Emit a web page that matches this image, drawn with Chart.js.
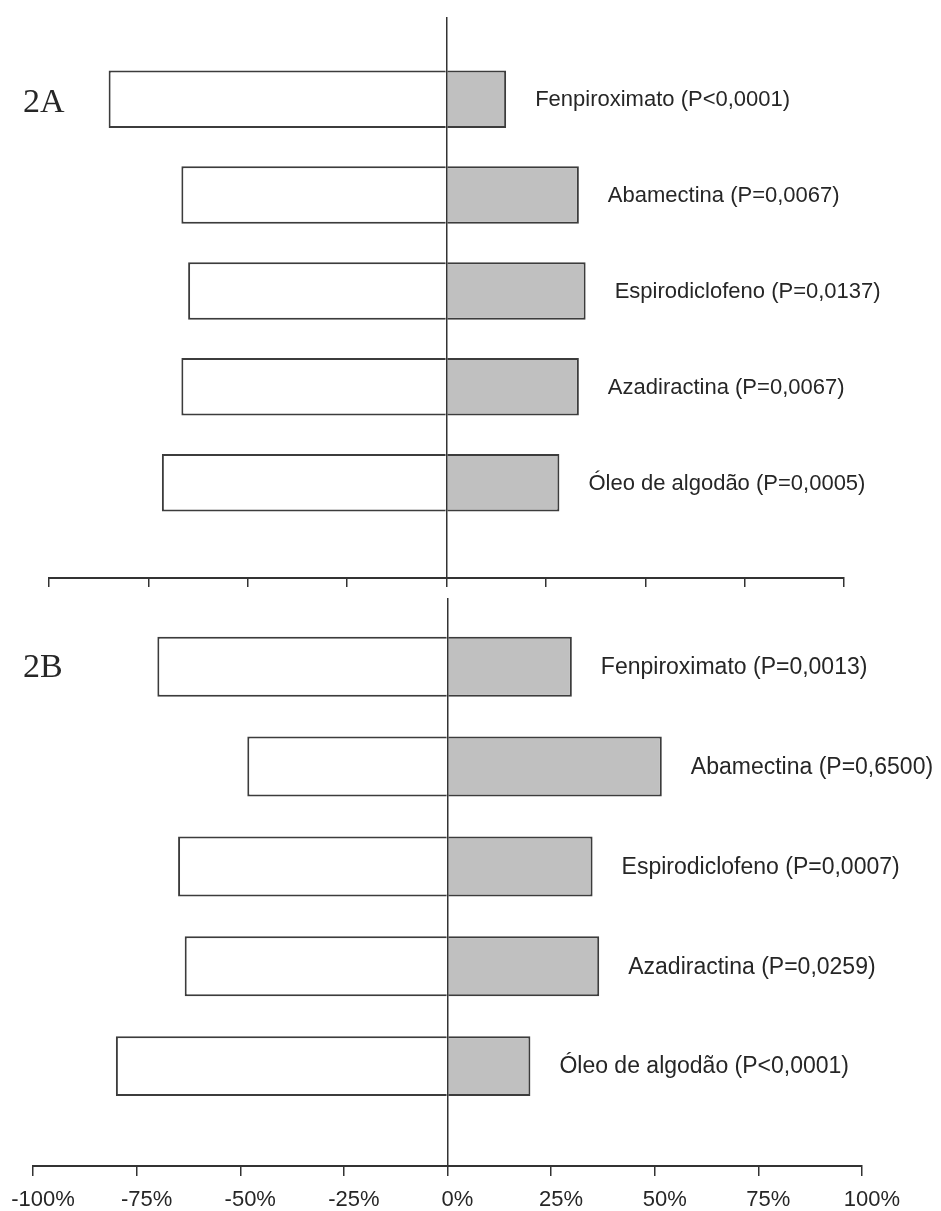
<!DOCTYPE html>
<html>
<head>
<meta charset="utf-8">
<script src="https://cdn.jsdelivr.net/npm/chart.js@4.4.1/dist/chart.umd.min.js"></script>
<style>
html, body { margin: 0; padding: 0; background: #fff; overflow: hidden; }
#wrap { position: relative; width: 941px; height: 1211px; overflow: hidden; }
canvas { position: absolute; }
#chartA { left: 0; top: 0; }
#chartB { left: -20px; top: 590px; }
</style>
</head>
<body>
<div id="wrap">
<canvas id="chartA" width="941" height="600"></canvas>
<canvas id="chartB" width="961" height="640"></canvas>
</div>
<script>
const treatments = ['Fenpiroximato', 'Abamectina', 'Espirodiclofeno', 'Azadiractina', 'Óleo de algodão'];

// Panel 2A
const pValuesA = ['P<0,0001', 'P=0,0067', 'P=0,0137', 'P=0,0067', 'P=0,0005'];
const leftA = [-85, -66.7, -65, -66.7, -71.6];
const rightA = [15, 33.3, 35, 33.3, 28.4];

// Panel 2B
const pValuesB = ['P=0,0013', 'P=0,6500', 'P=0,0007', 'P=0,0259', 'P<0,0001'];
const leftB = [-70, -48.3, -65, -63.4, -80];
const rightB = [30, 51.7, 35, 36.6, 20];

const xTicks = [-100, -75, -50, -25, 0, 25, 50, 75, 100];

Chart.defaults.font.family = '"Liberation Sans", Arial, sans-serif';
Chart.defaults.color = '#262626';

const sideLabels = {
    id: 'sideLabels',
    afterDatasetsDraw(chart, args, opts) {
        const ctx = chart.ctx;
        const meta = chart.getDatasetMeta(1);
        ctx.save();
        ctx.fillStyle = '#262626';
        ctx.font = opts.size + 'px "Liberation Sans", Arial, sans-serif';
        ctx.textBaseline = 'middle';
        ctx.textAlign = 'left';
        meta.data.forEach((bar, i) => {
            ctx.fillText(opts.labels[i], bar.x + opts.gap, bar.y + 1);
        });
        // panel letter
        ctx.font = '34px "Liberation Serif", "Times New Roman", serif';
        ctx.textBaseline = 'alphabetic';
        ctx.fillText(opts.panel, opts.panelX, opts.panelY);
        ctx.restore();
    }
};

function makePanel(canvasId, left, right, pvals, cfg) {
    const labels = treatments.map((t, i) => `${t} (${pvals[i]})`);
    return new Chart(canvasId, {
        type: 'bar',
        data: {
            labels: treatments,
            datasets: [
                { data: left.map((v, i) => ({ x: v, y: i })), backgroundColor: '#ffffff' },
                { data: right.map((v, i) => ({ x: v, y: i })), backgroundColor: '#c0c0c0' },
            ],
        },
        options: {
            indexAxis: 'y',
            responsive: false,
            animation: false,
            layout: { padding: cfg.padding },
            datasets: {
                bar: {
                    grouped: false,
                    categoryPercentage: 1,
                    barPercentage: 0.6,
                    borderColor: '#3c3c3c',
                    borderWidth: 2,
                    borderSkipped: 'start',
                },
            },
            scales: {
                y: {
                    type: 'linear',
                    reverse: true,
                    offset: false,
                    bounds: 'data',
                    min: cfg.yMin,
                    max: cfg.yMax,
                    display: false,
                    grid: { offset: false },
                    // one tick per treatment, so bar spacing comes from the rows
                    afterBuildTicks: s => { s.ticks = treatments.map((t, i) => ({ value: i })); },
                },
                x: {
                    type: 'linear',
                    min: -100,
                    max: 100,
                    afterBuildTicks: s => { s.ticks = xTicks.map(v => ({ value: v })); },
                    grid: {
                        z: 1,
                        color: c => (c.tick && c.tick.value === 0) ? '#333333' : 'rgba(0,0,0,0)',
                        lineWidth: 1.5,
                        tickColor: '#333333',
                        tickWidth: 1.5,
                        tickLength: cfg.tickLen,
                    },
                    border: { display: true, color: '#333333', width: 2, z: 1 },
                    ticks: {
                        display: cfg.showTicks,
                        padding: 13,
                        labelOffset: 10,
                        maxRotation: 0,
                        font: { size: 22, lineHeight: 1 },
                        color: '#262626',
                        callback: v => v + '%',
                    },
                },
            },
            plugins: {
                legend: { display: false },
                tooltip: { enabled: false },
                sideLabels: {
                    labels: labels,
                    size: cfg.labelSize,
                    gap: 29,
                    panel: cfg.panel,
                    panelX: cfg.panelX,
                    panelY: cfg.panelY,
                },
            },
        },
        plugins: [sideLabels],
    });
}

makePanel('chartA', leftA, rightA, pValuesA, {
    padding: { left: 49, right: 97, top: 17, bottom: 13 },
    yMin: -0.857, yMax: 4.994,
    tickLen: 9, showTicks: false, labelSize: 22,
    panel: '2A', panelX: 23, panelY: 112,
});

makePanel('chartB', leftB, rightB, pValuesB, {
    padding: { left: 53, right: 79, top: 8, bottom: 6 },
    yMin: -0.688, yMax: 5.0,
    tickLen: 10, showTicks: true, labelSize: 23,
    panel: '2B', panelX: 43, panelY: 87,
});
</script>
</body>
</html>
